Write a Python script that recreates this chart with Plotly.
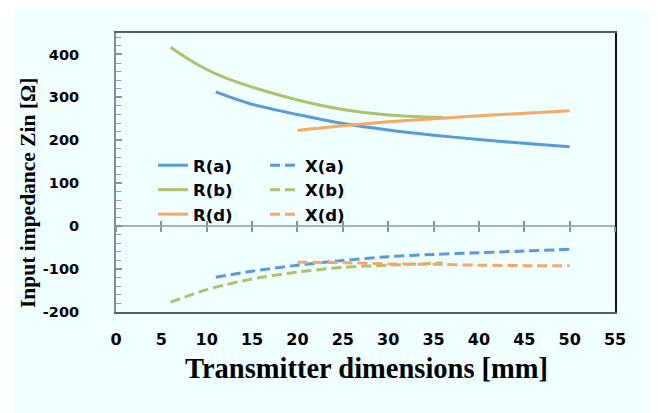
import plotly.graph_objects as go

# ---- data ----
x_a = [11, 15, 20, 25, 30, 35, 40, 45, 50]
R_a = [313, 284, 260, 239, 224, 212, 202, 193, 185]
X_a = [-119, -105, -91, -80, -71, -66, -62, -58, -54]

x_b = [6, 8, 10, 12, 15, 20, 25, 30, 36]
R_b = [417, 389, 365, 346, 324, 294, 272, 259, 253]
X_b = [-177, -162, -148, -137, -123, -107, -96, -91, -86]

x_d = [20, 25, 30, 35, 40, 45, 50]
R_d = [223, 234, 243, 250, 257, 263, 269]
X_d = [-84, -85, -88, -89, -91, -92, -92]

x_ticks = list(range(0, 56, 5))
y_ticks = list(range(-200, 401, 100))
y_ticktext = [str(v) for v in y_ticks]   # plain hyphen minus as in the reference

C_A = "#5B9BD5"
C_B = "#A9C46C"
C_D = "#F8A766"
DASH = "10px,5px"

fig = go.Figure()

def add(x, y, name, color, dash, legend, rank):
    fig.add_trace(go.Scatter(
        x=x, y=y, name=name, mode="lines",
        line=dict(color=color, width=3, dash=dash, shape="spline", smoothing=0.8),
        legend=legend, legendrank=rank, legendgroup=name, hoverinfo="skip"))

# draw order: b below a below d
add(x_b, R_b, "R(b)", C_B, "solid", "legend", 2)
add(x_a, R_a, "R(a)", C_A, "solid", "legend", 1)
add(x_d, R_d, "R(d)", C_D, "solid", "legend", 3)
add(x_b, X_b, "X(b)", C_B, DASH, "legend2", 2)
add(x_a, X_a, "X(a)", C_A, DASH, "legend2", 1)
add(x_d, X_d, "X(d)", C_D, DASH, "legend2", 3)

# helper traces so that the extra axes are drawn
fig.add_trace(go.Scatter(x=[0, 55], y=[None, None], xaxis="x2", yaxis="y",
                         showlegend=False, hoverinfo="skip"))
fig.add_trace(go.Scatter(x=[0, 55], y=[None, None], xaxis="x3", yaxis="y",
                         showlegend=False, hoverinfo="skip"))
fig.add_trace(go.Scatter(x=[None, None], y=[-200, 450], xaxis="x", yaxis="y2",
                         showlegend=False, hoverinfo="skip"))

YMIN, YMAX = -200, 450
zero_pos = (0 - YMIN) / (YMAX - YMIN)

xtick_font = dict(family="DejaVu Sans", size=16, color="#000000", weight="bold")
ytick_font = dict(family="DejaVu Sans", size=14.5, color="#000000", weight="bold")
leg_font = dict(family="DejaVu Sans", size=16.5, color="#000000", weight="bold")

# page body has an 8px margin -> figure is 650x405 placed at (8,8)
OFF = 8
PW, PH = 499, 279          # plot area size in px
PL, PT = 116, 33           # plot area left/top in screen px

def px(X):
    return (X - PL) / PW

def py(Y):
    return (PT + PH - Y) / PH

fig.update_layout(
    width=650, height=405,
    margin=dict(l=PL - OFF, r=650 - (PL - OFF + PW), t=PT - OFF,
                b=405 - (PT - OFF + PH), autoexpand=False),
    paper_bgcolor="#FFFFFF",
    plot_bgcolor="rgba(0,0,0,0)",
    showlegend=True,
    xaxis=dict(range=[0, 55], tickvals=x_ticks, showgrid=False, zeroline=False,
               showline=True, linecolor="#55605C", linewidth=2, mirror=True,
               ticks="", tickfont=xtick_font, ticklabelstandoff=12,
               fixedrange=True),
    xaxis2=dict(overlaying="x", matches="x", anchor="free", position=zero_pos,
                tickvals=x_ticks, showticklabels=False, showgrid=False,
                zeroline=False, showline=True, linecolor="#A3B0C3", linewidth=2,
                ticks="outside", ticklen=5, tickwidth=1.5, tickcolor="#8492A8"),
    xaxis3=dict(overlaying="x", matches="x", anchor="free", position=zero_pos,
                tickvals=x_ticks, showticklabels=False, showgrid=False,
                zeroline=False, showline=False,
                ticks="inside", ticklen=5, tickwidth=1.5, tickcolor="#8492A8"),
    yaxis=dict(range=[YMIN, YMAX], tickvals=y_ticks, ticktext=y_ticktext,
               showgrid=False, zeroline=False,
               showline=True, linecolor="#7F8CA3", linewidth=2,
               ticks="inside", ticklen=6, tickwidth=1.5, tickcolor="#8492A8",
               minor=dict(dtick=20, ticks="inside", ticklen=5, tickwidth=1,
                          tickcolor="#8E9BB0", showgrid=False),
               tickfont=ytick_font, ticklabelstandoff=32, fixedrange=True),
    yaxis2=dict(overlaying="y", matches="y", side="right", showticklabels=False,
                showgrid=False, zeroline=False, showline=True,
                linecolor="#111111", linewidth=2, ticks=""),
    legend=dict(x=px(153), y=py(148), xanchor="left", yanchor="top",
                bgcolor="rgba(0,0,0,0)", traceorder="grouped",
                font=leg_font, tracegroupgap=0),
    legend2=dict(x=px(265), y=py(148), xanchor="left", yanchor="top",
                 bgcolor="rgba(0,0,0,0)", traceorder="grouped",
                 font=leg_font, tracegroupgap=0),
    shapes=[dict(type="rect", xref="paper", yref="paper", layer="below",
                 x0=px(14), x1=px(670), y0=py(430), y1=py(10),
                 fillcolor="#F0FFFF", line=dict(width=0))],
    annotations=[
        dict(text="Transmitter dimensions [mm]", xref="paper", yref="paper",
             x=px(366), y=py(368), xanchor="center", yanchor="middle", showarrow=False,
             font=dict(family="Liberation Serif", size=28.5, color="#000000", weight="bold")),
        dict(text="Input impedance Zin [Ω]", xref="paper", yref="paper",
             x=px(28), y=py(193), xanchor="center", yanchor="middle",
             textangle=-90, showarrow=False,
             font=dict(family="Liberation Serif", size=21.5, color="#000000", weight="bold")),
    ],
)

fig.write_html("out.html")
